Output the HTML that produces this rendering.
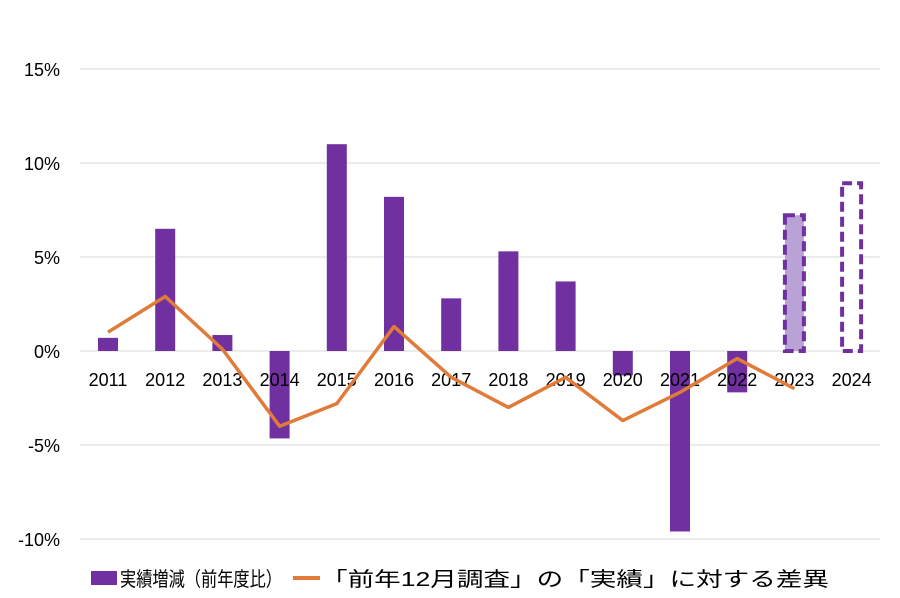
<!DOCTYPE html>
<html><head><meta charset="utf-8"><style>
html,body{margin:0;padding:0;background:#fff;}
svg{display:block;}
text{font-family:"Liberation Sans","Noto Sans CJK JP",sans-serif;fill:#000;}
</style></head><body>
<svg id="chart" width="900" height="598"></svg>
<script>
const years=["2011","2012","2013","2014","2015","2016","2017","2018","2019","2020","2021","2022","2023","2024"];
const actual=[0.7,6.5,0.85,-4.65,11.0,8.2,2.8,5.3,3.7,-1.3,-9.6,-2.2,7.3,9.0];
const diff=[1.0,2.9,0.1,-4.0,-2.8,1.3,-1.4,-3.0,-1.4,-3.7,-2.2,-0.4,-2.0];
const ticks=[15,10,5,0,-5,-10];
const tickLabels=["15%","10%","5%","0%","-5%","-10%"];
const NS="http://www.w3.org/2000/svg";
const svg=document.getElementById('chart');
const y=v=>351-v*18.8;
const x=i=>108+i*57.2;
function mk(tag,attrs,parent){const e=document.createElementNS(NS,tag);for(const k in attrs)e.setAttribute(k,attrs[k]);(parent||svg).appendChild(e);return e;}
ticks.forEach((t,i)=>{
  const l=mk('line',{x1:80,x2:880,y1:y(t),y2:y(t),stroke:'#d9d9d9','stroke-width':1});
  
  
  const tx=mk('text',{x:60,y:y(t)+7,'font-size':18,'text-anchor':'end'});
  tx.textContent=tickLabels[i];
  
  
});
actual.forEach((v,i)=>{
  const top=Math.min(y(v),y(0)),h=Math.abs(y(v)-y(0));
  let r;
  if(i<12){r=mk('rect',{x:x(i)-10,y:top,width:20,height:h,fill:'#7030a0'});}
  else{r=mk('rect',{x:x(i)-9.5,y:top+1.5,width:19,height:h-1.5,fill:i==12?'#b9a3d6':'#fff',stroke:'#7030a0','stroke-width':4,'stroke-dasharray':'10,5'});}
  
  
});
years.forEach((yr,i)=>{
  const t=mk('text',{x:x(i),y:386,'font-size':18,'text-anchor':'middle'});
  t.textContent=yr;
  
  
});
const pl=mk('polyline',{points:diff.map((v,i)=>x(i)+','+y(v)).join(' '),fill:'none',stroke:'#e07b39','stroke-width':3.5,'stroke-linejoin':'round'});


</script>
<svg width="900" height="598" style="position:absolute;left:0;top:0">
<rect x="91" y="571" width="26" height="14" fill="#7030a0"/>
<text x="120" y="586" font-size="20" textLength="162" lengthAdjust="spacingAndGlyphs">実績増減（前年度比）</text>
<line x1="293" x2="320" y1="578" y2="578" stroke="#e07b39" stroke-width="4"/>
<text x="321" y="586" font-size="20" textLength="508" lengthAdjust="spacingAndGlyphs">「前年12月調査」の「実績」に対する差異</text>
</svg>
</body></html>
